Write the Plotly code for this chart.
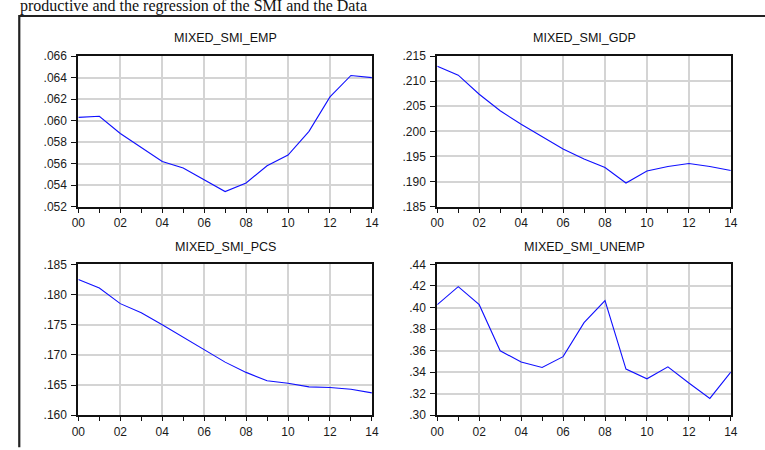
import plotly.graph_objects as go
from plotly.subplots import make_subplots

# ---------------- data ----------------
years = list(range(2000, 2015))
x_tick_vals = [2000, 2002, 2004, 2006, 2008, 2010, 2012, 2014]
x_tick_text = ["00", "02", "04", "06", "08", "10", "12", "14"]

titles = ["MIXED_SMI_EMP", "MIXED_SMI_GDP", "MIXED_SMI_PCS", "MIXED_SMI_UNEMP"]

emp = [0.0603, 0.0604, 0.0588, 0.0575, 0.0562, 0.0556, 0.0545, 0.0534,
       0.0542, 0.0558, 0.0568, 0.0590, 0.0622, 0.0642, 0.0640]
gdp = [0.2130, 0.2112, 0.2074, 0.2041, 0.2014, 0.1990, 0.1965, 0.1945,
       0.1928, 0.1897, 0.1921, 0.1930, 0.1936, 0.1930, 0.1922]
pcs = [0.1825, 0.1811, 0.1785, 0.1770, 0.1750, 0.1729, 0.1709, 0.1688,
       0.1671, 0.1657, 0.1653, 0.1647, 0.1646, 0.1643, 0.1637]
unemp = [0.4026, 0.4194, 0.4026, 0.3598, 0.3494, 0.3443, 0.3544, 0.3859,
         0.4065, 0.3428, 0.3338, 0.3449, 0.3299, 0.3156, 0.3401]

emp_ticks = [0.052, 0.054, 0.056, 0.058, 0.060, 0.062, 0.064, 0.066]
emp_labels = [".052", ".054", ".056", ".058", ".060", ".062", ".064", ".066"]
gdp_ticks = [0.185, 0.190, 0.195, 0.200, 0.205, 0.210, 0.215]
gdp_labels = [".185", ".190", ".195", ".200", ".205", ".210", ".215"]
pcs_ticks = [0.160, 0.165, 0.170, 0.175, 0.180, 0.185]
pcs_labels = [".160", ".165", ".170", ".175", ".180", ".185"]
unemp_ticks = [0.30, 0.32, 0.34, 0.36, 0.38, 0.40, 0.42, 0.44]
unemp_labels = [".30", ".32", ".34", ".36", ".38", ".40", ".42", ".44"]

caption = "productive and the regression of the SMI and the Data"

# ---------------- figure ----------------
W, H = 765, 450
series = [emp, gdp, pcs, unemp]
yticks = [emp_ticks, gdp_ticks, pcs_ticks, unemp_ticks]
ylabels = [emp_labels, gdp_labels, pcs_labels, unemp_labels]

fig = make_subplots(rows=2, cols=2)

# plot-area geometry in pixels (left, right, top, bottom)
boxes = [(72.7, 371.7, 50.7, 206.0), (438.3, 737.3, 50.7, 206.0),
         (72.7, 371.7, 265.7, 421.3), (438.3, 737.3, 265.7, 421.3)]
title_y = [32.0, 32.0, 247.5, 247.5]

tick_font = dict(family="Liberation Sans, Arial, sans-serif", size=12, color="#1a1a1a")
pos = [(1, 1), (1, 2), (2, 1), (2, 2)]

for i, (r, c) in enumerate(pos):
    fig.add_trace(go.Scatter(x=years, y=series[i], mode="lines",
                             line=dict(color="#1010ff", width=1.1),
                             showlegend=False, hoverinfo="x+y"), row=r, col=c)
    L, R, T, B = boxes[i]
    fig.update_xaxes(domain=[L / W, R / W], range=[2000, 2014],
                     tickvals=x_tick_vals, ticktext=x_tick_text,
                     ticks="outside", ticklen=4, tickwidth=1.2, tickcolor="#111",
                     minor=dict(ticks="outside", dtick=1, tick0=2000, ticklen=4,
                                tickwidth=1.2, tickcolor="#111", showgrid=False),
                     showgrid=True, gridcolor="#d4d4d4", gridwidth=1.5,
                     showline=True, linecolor="#111", linewidth=2, mirror=True,
                     zeroline=False, tickfont=tick_font, ticklabelstandoff=0,
                     row=r, col=c)
    fig.update_yaxes(domain=[1 - B / H, 1 - T / H],
                     range=[yticks[i][0], yticks[i][-1]],
                     tickvals=yticks[i], ticktext=ylabels[i],
                     ticks="outside", ticklen=5, tickwidth=1.2, tickcolor="#111",
                     showgrid=True, gridcolor="#d4d4d4", gridwidth=1.5,
                     showline=True, linecolor="#111", linewidth=2, mirror=True,
                     zeroline=False, tickfont=tick_font, ticklabelstandoff=2,
                     row=r, col=c)
    fig.add_annotation(text=titles[i], xref="paper", yref="paper",
                       x=(L + R) / 2 / W, y=1 - title_y[i] / H,
                       xanchor="center", yanchor="middle", showarrow=False,
                       font=dict(family="Liberation Sans, Arial, sans-serif",
                                 size=12.5, color="#111"))

# partly clipped caption line above the frame
fig.add_annotation(text=caption, xref="paper", yref="paper",
                   x=11 / W, y=1 - 10 / H, xanchor="left", yanchor="bottom",
                   showarrow=False,
                   font=dict(family="Liberation Serif, Times New Roman, serif",
                             size=16, color="#111"))

# outer frame (left and top edges visible)
fig.add_shape(type="path", xref="paper", yref="paper",
              path=f"M {12.5 / W} -0.01 L {12.5 / W} {1 - 9.3 / H} L 1.01 {1 - 9.3 / H}",
              line=dict(color="#222", width=2.2))

fig.update_layout(width=W, height=H, margin=dict(l=0, r=0, t=0, b=0),
                  paper_bgcolor="white", plot_bgcolor="white")

fig.write_html("out.html")
